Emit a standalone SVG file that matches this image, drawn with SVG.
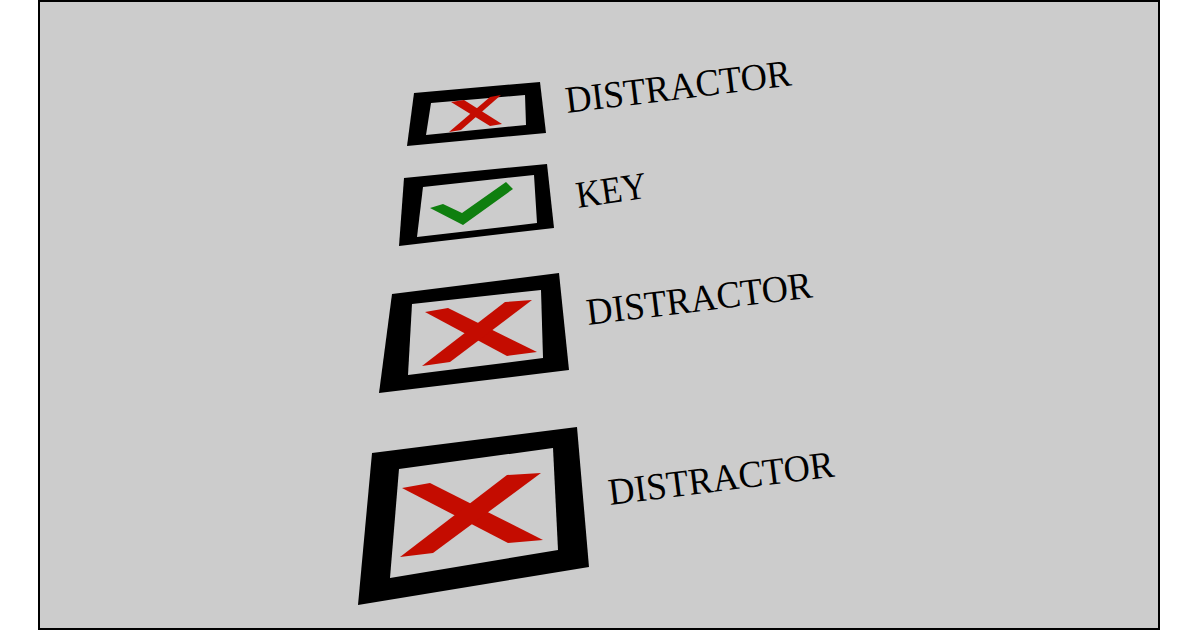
<svg xmlns="http://www.w3.org/2000/svg" width="1200" height="630" viewBox="0 0 1200 630">
<style>
.frame{fill:#000}
.inner{fill:#cccccc}
.x{fill:#c40c00}
.chk{fill:#0f7f0f}
.lbl{font-family:"Liberation Serif","Times New Roman",serif;font-size:38px;fill:#000}
</style>
<rect x="0" y="0" width="1200" height="630" fill="#ffffff"/>
<rect x="39" y="1" width="1120" height="628" fill="#cccccc" stroke="#000" stroke-width="2"/>
<g id="box1">
<polygon class="frame" points="414,93 540,82 546,133 407,146"/>
<polygon class="inner" points="431,103 525,95 526,125 426,135"/>
<polygon class="x" points="451,102 464,100 502,124 490,126"/>
<polygon class="x" points="490,97 501,95 461,130 449,132"/>
<text class="lbl" transform="translate(567,113) rotate(-7)" textLength="227" lengthAdjust="spacingAndGlyphs">DISTRACTOR</text>
</g>
<g id="box2">
<polygon class="frame" points="404,178 547,164 554,228 399,246"/>
<polygon class="inner" points="423,187 534,175 537,223 417,237"/>
<polygon class="chk" points="430,208 443,204 462,213 506,182 513,189 463,225"/>
<text class="lbl" transform="translate(578,208) rotate(-8.5)" textLength="71" lengthAdjust="spacingAndGlyphs">KEY</text>
</g>
<g id="box3">
<polygon class="frame" points="392,294 559,273 569,370 379,393"/>
<polygon class="inner" points="412,304 541,290 543,358 408,375"/>
<polygon class="x" points="425,312 448,308 537,352 507,356"/>
<polygon class="x" points="505,302 532,300 450,362 422,366"/>
<text class="lbl" transform="translate(588,325) rotate(-7)" textLength="227" lengthAdjust="spacingAndGlyphs">DISTRACTOR</text>
</g>
<g id="box4">
<polygon class="frame" points="372,453 577,427 589,567 358,605"/>
<polygon class="inner" points="399,469 553,448 558,550 390,578"/>
<polygon class="x" points="402,488 430,483 543,540 508,543"/>
<polygon class="x" points="507,475 541,473 433,553 400,557"/>
<text class="lbl" transform="translate(610,505) rotate(-7.2)" textLength="227" lengthAdjust="spacingAndGlyphs">DISTRACTOR</text>
</g>
<g id="connectors"/>
</svg>
